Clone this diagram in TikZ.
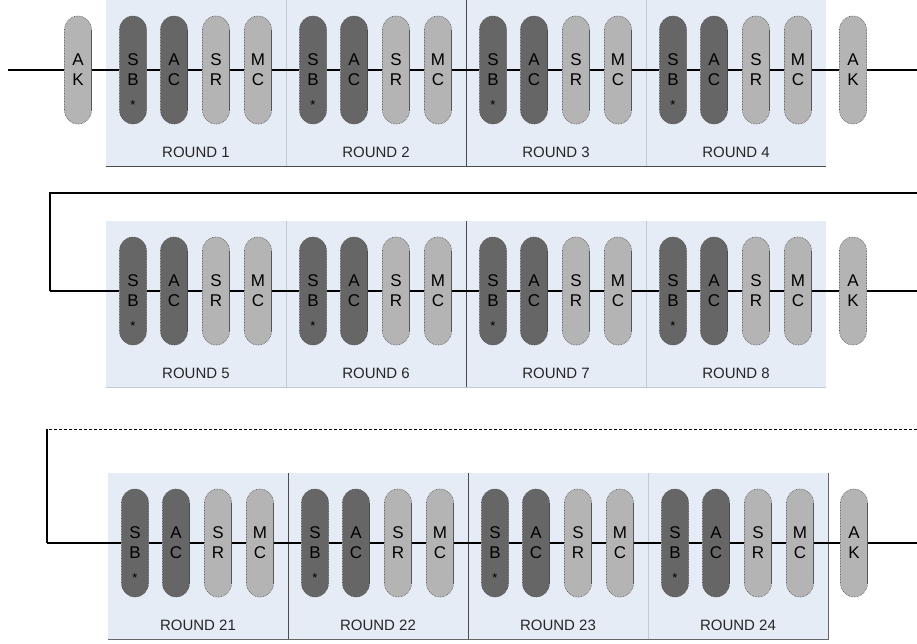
\documentclass[tikz,border=0pt]{standalone}
\usepackage{fontspec}
\setsansfont{Liberation Sans}
\usetikzlibrary{positioning}

\definecolor{panelblue}{RGB}{230,236,246}
\definecolor{darkpill}{RGB}{102,102,102}
\definecolor{lightpill}{RGB}{180,180,180}
\definecolor{softline}{RGB}{196,202,212}

\tikzset{
  pill/.style={rectangle, rounded corners=13.5pt, minimum width=27pt,
    minimum height=108pt, inner sep=0pt, draw=black!70, densely dotted,
    line width=0.6pt, align=center,
    font=\sffamily\fontsize{17}{20}\selectfont,
    path picture={
      \draw[solid, line width=1.6pt, black!85]
        ([yshift=-13.5pt]path picture bounding box.north east) --
        ([yshift=13.5pt]path picture bounding box.south east);
      \draw[solid, line width=0.8pt, black!40]
        ([yshift=-13.5pt]path picture bounding box.north west) --
        ([yshift=13.5pt]path picture bounding box.south west);}},
  darkpill/.style={pill, fill=darkpill},
  lightpill/.style={pill, fill=lightpill},
  starred/.style={label={[font=\sffamily\fontsize{13}{13}\selectfont,
    yshift=-35pt]center:*}},
  roundlbl/.style={font=\sffamily\fontsize{15}{15}\selectfont, text=black!85},
  wire/.style={line width=1.5pt},
}

\begin{document}
\begin{tikzpicture}[x=1pt, y=-1pt]
    \useasboundingbox (0,0) rectangle (917,643);

    % Panels behind the rounds
    \fill[panelblue] (106,0) rectangle (826,166);
    \fill[panelblue] (106,221) rectangle (826,387);
    \fill[panelblue] (108,473) rectangle (828,639);

    % Dividers and edges, row 1
    \draw[softline] (286,0) -- (286,166);
    \draw[black!70] (466,0) -- (466,166);
    \draw[softline] (646,0) -- (646,166);
    \draw[black!70] (106,166) -- (826,166);
    % row 2
    \draw[softline] (286,221) -- (286,387);
    \draw[black!70] (466,221) -- (466,387);
    \draw[softline] (646,221) -- (646,387);
    \draw[softline] (106,387) -- (826,387);
    % row 3
    \draw[black!70] (288,473) -- (288,639);
    \draw[black!70] (468,473) -- (468,639);
    \draw[softline] (648,473) -- (648,639);
    \draw[black!60] (108,639) -- (828,639) -- (828,473);

    % The rounds
    \foreach \n/\x/\y in {1/106/70, 2/286/70, 3/466/70, 4/646/70,
                          5/106/291, 6/286/291, 7/466/291, 8/646/291,
                          21/108/543, 22/288/543, 23/468/543, 24/648/543} {
        \node[darkpill, starred] (sb\n) at (\x+27,\y) {S\\B};
        \node[darkpill] (ac\n) at (\x+68,\y) {A\\C};
        \node[lightpill] (sr\n) at (\x+110,\y) {S\\R};
        \node[lightpill] (mc\n) at (\x+152,\y) {M\\C};
        \node[roundlbl] (lbl\n) at (\x+90,\y+82) {ROUND \n};
        \draw[wire] (sb\n) -- (ac\n);
        \draw[wire] (ac\n) -- (sr\n);
        \draw[wire] (sr\n) -- (mc\n);
    }

    % Key additions
    \node[lightpill] (akA) at (78,70) {A\\K};
    \node[lightpill] (akB) at (853,70) {A\\K};
    \node[lightpill] (akC) at (853,291) {A\\K};
    \node[lightpill] (akD) at (854,543) {A\\K};

    % Wire ends and bends
    \coordinate (in1) at (8,70);
    \coordinate (out1) at (917,70);
    \coordinate (top2) at (917,193);
    \coordinate (bend2) at (50,193);
    \coordinate (in2) at (50,291);
    \coordinate (out2) at (917,291);
    \coordinate (top3) at (917,429);
    \coordinate (bend3) at (47,429);
    \coordinate (in3) at (47,543);
    \coordinate (out3) at (917,543);

    % Wires between rounds
    \foreach \a/\b in {in1/akA, akA/sb1, mc1/sb2, mc2/sb3, mc3/sb4, mc4/akB, akB/out1,
                       in2/sb5, mc5/sb6, mc6/sb7, mc7/sb8, mc8/akC, akC/out2,
                       in3/sb21, mc21/sb22, mc22/sb23, mc23/sb24, mc24/akD, akD/out3}
        \draw[wire] (\a) -- (\b);
    \draw[wire] (top2) -- (bend2) -- (in2);
    \draw[line width=1pt, dash pattern=on 3pt off 2pt] (top3) -- (bend3);
    \draw[wire] (bend3) -- (in3);
\end{tikzpicture}
\end{document}
